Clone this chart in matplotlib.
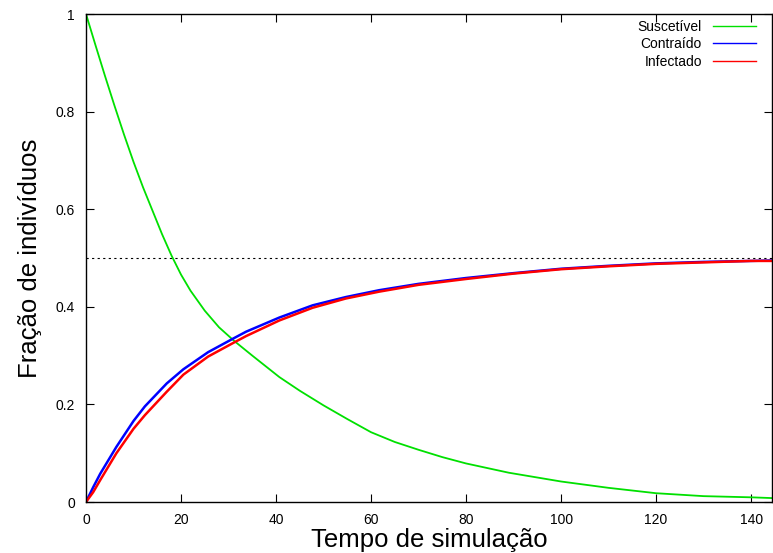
import matplotlib
matplotlib.use("Agg")
import matplotlib.pyplot as plt

plt.rcParams['font.family'] = ['Liberation Sans', 'DejaVu Sans']

# valores
t_s = [0, 2, 4, 6, 8, 10, 12, 14, 16, 18, 20, 22, 25, 28, 31.2, 35, 40.7, 45,
       50, 55, 60, 65, 70, 75, 80, 89, 100, 110, 120, 130, 140, 144.5]
suscetivel = [1.0, 0.936, 0.873, 0.812, 0.753, 0.697, 0.645, 0.597, 0.549,
              0.505, 0.466, 0.433, 0.392, 0.358, 0.330, 0.300, 0.256, 0.228,
              0.198, 0.170, 0.143, 0.123, 0.107, 0.092, 0.079, 0.060, 0.042,
              0.029, 0.018, 0.012, 0.0096, 0.008]

t_c = [0, 1.5, 3, 6.4, 10, 12.4, 17, 20.5, 25.7, 31, 33.7, 40.7, 47.7, 54.7,
       61.7, 70, 80, 90, 100, 110, 120, 130, 140, 144.5]
contraido = [0.0, 0.030, 0.058, 0.113, 0.166, 0.196, 0.243, 0.272, 0.307,
             0.335, 0.349, 0.378, 0.403, 0.420, 0.434, 0.447, 0.459, 0.469,
             0.478, 0.484, 0.489, 0.492, 0.494, 0.495]
infectado = [0.0, 0.020, 0.045, 0.100, 0.150, 0.178, 0.226, 0.261, 0.298,
             0.326, 0.340, 0.372, 0.398, 0.417, 0.431, 0.445, 0.457, 0.468,
             0.477, 0.483, 0.488, 0.491, 0.494, 0.494]

fig = plt.figure(figsize=(7.73, 5.53), dpi=100)
ax = fig.add_axes([86/773, 1 - 502/553, 686/773, 488/553])

ax.axhline(0.5, color='black', lw=0.8, ls=(0, (2, 3)))
ax.plot(t_s, suscetivel, color='#00e000', lw=1.3, label='Suscetível')
ax.plot(t_c, contraido, color='#0000ff', lw=1.8, label='Contraído')
ax.plot(t_c, infectado, color='#ff0000', lw=1.8, label='Infectado')

ax.set_xlim(0, 144.4)
ax.set_ylim(0, 1)
ax.set_xticks([0, 20, 40, 60, 80, 100, 120, 140])
ax.set_yticks([0, 0.2, 0.4, 0.6, 0.8, 1])
ax.set_yticklabels(['0', '0.2', '0.4', '0.6', '0.8', '1'])
ax.tick_params(direction='in', length=6, width=0.8, labelsize=10,
               top=True, right=True, pad=8)
for s in ax.spines.values():
    s.set_linewidth(1.0)

ax.set_xlabel('Tempo de simulação', fontsize=18.5, labelpad=1)
ax.set_ylabel('Fração de indivíduos', fontsize=18.5, labelpad=10)

leg = ax.legend(loc='upper right', frameon=False, markerfirst=False, fontsize=10,
                handlelength=3.1, handletextpad=0.8, labelspacing=0.25,
                borderaxespad=0.0, bbox_to_anchor=(0.985, 1.0))
for h in leg.get_lines():
    h.set_linewidth(1.0)

fig.savefig('out.png', dpi=100)
